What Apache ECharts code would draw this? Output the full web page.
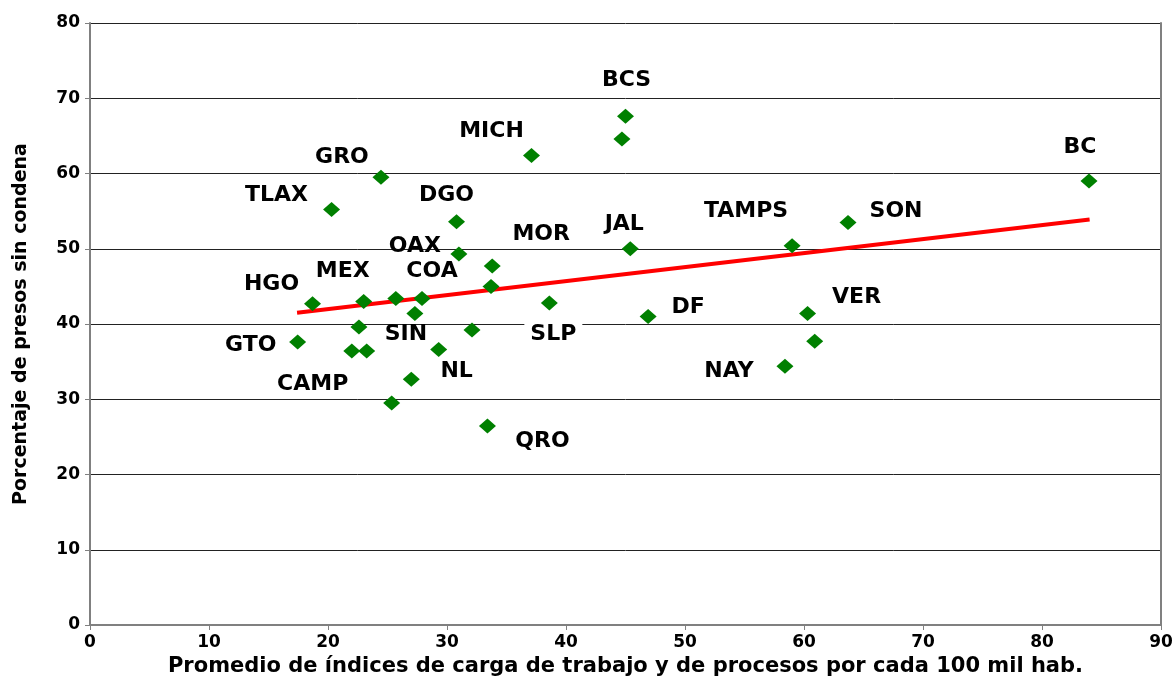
<!DOCTYPE html>
<html>
<head>
<meta charset="utf-8">
<script src="https://cdn.jsdelivr.net/npm/echarts@6/dist/echarts.min.js"></script>
<style>html,body{margin:0;padding:0;background:#fff}#c{width:1176px;height:699px}</style>
</head>
<body>
<div id="c"></div>
<script>
// ---- data ----
const labels = ['GRO','MICH','TLAX','DGO','OAX','MOR','','HGO','MEX','','COA','SIN','SLP','','GTO','','','','NL','','CAMP','QRO','BCS','','JAL','DF','BC','SON','TAMPS','VER','','NAY'];
const xValues = [24.45,37.1,20.3,30.8,31.0,33.8,33.7,18.7,23.0,25.7,27.9,27.3,38.6,22.6,17.45,22.0,23.25,32.1,29.3,27.0,25.35,33.4,45.0,44.7,45.4,46.9,83.95,63.7,59.0,60.3,60.9,58.4];
const yValues = [59.5,62.4,55.2,53.6,49.3,47.7,45.0,42.7,43.0,43.4,43.4,41.4,42.8,39.6,37.6,36.4,36.4,39.2,36.6,32.65,29.5,26.45,67.6,64.6,50.0,41.0,59.0,53.5,50.4,41.4,37.7,34.4];
const trendX = [17.4, 84.0];
const trendY = [41.5, 53.9];
const xTicks = [0,10,20,30,40,50,60,70,80,90];
const yTicks = [0,10,20,30,40,50,60,70,80];

// ---- label placement (pixel offsets from the marker) ----
const labelOffsets = {
  GRO:[-39,-20], MICH:[-40,-24], TLAX:[-55,-14], DGO:[-10,-26], OAX:[-44,-8], MOR:[49,-32],
  HGO:[-41,-19], MEX:[-21,-30], COA:[10,-27], SIN:[-9,21], SLP:[4,31], GTO:[-47,3], NL:[18,22],
  CAMP:[-79,-19], QRO:[55,15], BCS:[1,-36], JAL:[-6,-24], DF:[40,-9], BC:[-9,-34], SON:[48,-11],
  TAMPS:[-46,-34], VER:[49,-16], NAY:[-56,5]
};
const boxed = ['GRO','MOR','SLP','DF','CAMP'];

const FONT = '"DejaVu Sans", "Liberation Sans", Arial, sans-serif';

const points = xValues.map((x, i) => {
  const name = labels[i];
  const item = { value: [x, yValues[i]], name: name };
  if (name) {
    item.label = {
      show: true,
      position: 'inside',
      offset: labelOffsets[name],
      formatter: name,
      color: '#000',
      textBorderWidth: 0,
      fontFamily: FONT,
      fontWeight: 'bold',
      fontSize: 22,
      backgroundColor: boxed.includes(name) ? '#fff' : 'transparent',
      padding: [3, 6]
    };
  } else {
    item.label = { show: false };
  }
  return item;
});

const chart = echarts.init(document.getElementById('c'), null, { renderer: 'canvas' });
chart.setOption({
  animation: false,
  backgroundColor: '#fff',
  grid: { left: 90, right: 15, top: 23, bottom: 74, containLabel: false, outerBoundsMode: 'none' },
  xAxis: {
    type: 'value', min: 0, max: 90, interval: 10,
    name: 'Promedio de índices de carga de trabajo y de procesos por cada 100 mil hab.',
    nameLocation: 'middle', nameGap: 31,
    nameTextStyle: { fontFamily: FONT, fontWeight: 'bold', fontSize: 21, color: '#000' },
    axisLine: { show: true, lineStyle: { color: '#808080', width: 2 } },
    axisTick: { show: true, length: 5, inside: false, lineStyle: { color: '#808080', width: 1 } },
    axisLabel: { margin: 9, fontFamily: FONT, fontWeight: 'bold', fontSize: 17, color: '#000',
      formatter: v => xTicks.includes(v) ? String(v) : '' },
    splitLine: { show: false }
  },
  yAxis: [{
    type: 'value', min: 0, max: 80, interval: 10,
    name: 'Porcentaje de presos sin condena',
    nameLocation: 'middle', nameGap: 59,
    nameTextStyle: { fontFamily: FONT, fontWeight: 'bold', fontSize: 19, color: '#000' },
    axisLine: { show: true, lineStyle: { color: '#808080', width: 2 } },
    axisTick: { show: true, length: 5, lineStyle: { color: '#808080', width: 1 } },
    axisLabel: { margin: 10, fontFamily: FONT, fontWeight: 'bold', fontSize: 17, color: '#000',
      formatter: v => yTicks.includes(v) ? String(v) : '' },
    splitLine: { show: true, lineStyle: { color: '#222', width: 1 } }
  }, {
    type: 'value', min: 0, max: 80, interval: 10, position: 'right',
    axisLine: { show: true, lineStyle: { color: '#808080', width: 2 } },
    axisTick: { show: false }, axisLabel: { show: false }, splitLine: { show: false }
  }],
  series: [{
    type: 'line',
    data: trendX.map((x, i) => [x, trendY[i]]),
    symbol: 'none',
    lineStyle: { color: '#ff0000', width: 4 },
    z: 2
  }, {
    type: 'scatter',
    data: points,
    symbol: 'diamond',
    symbolSize: [17, 15],
    itemStyle: { color: '#008000', opacity: 1 },
    z: 3
  }]
});
</script>
</body>
</html>
